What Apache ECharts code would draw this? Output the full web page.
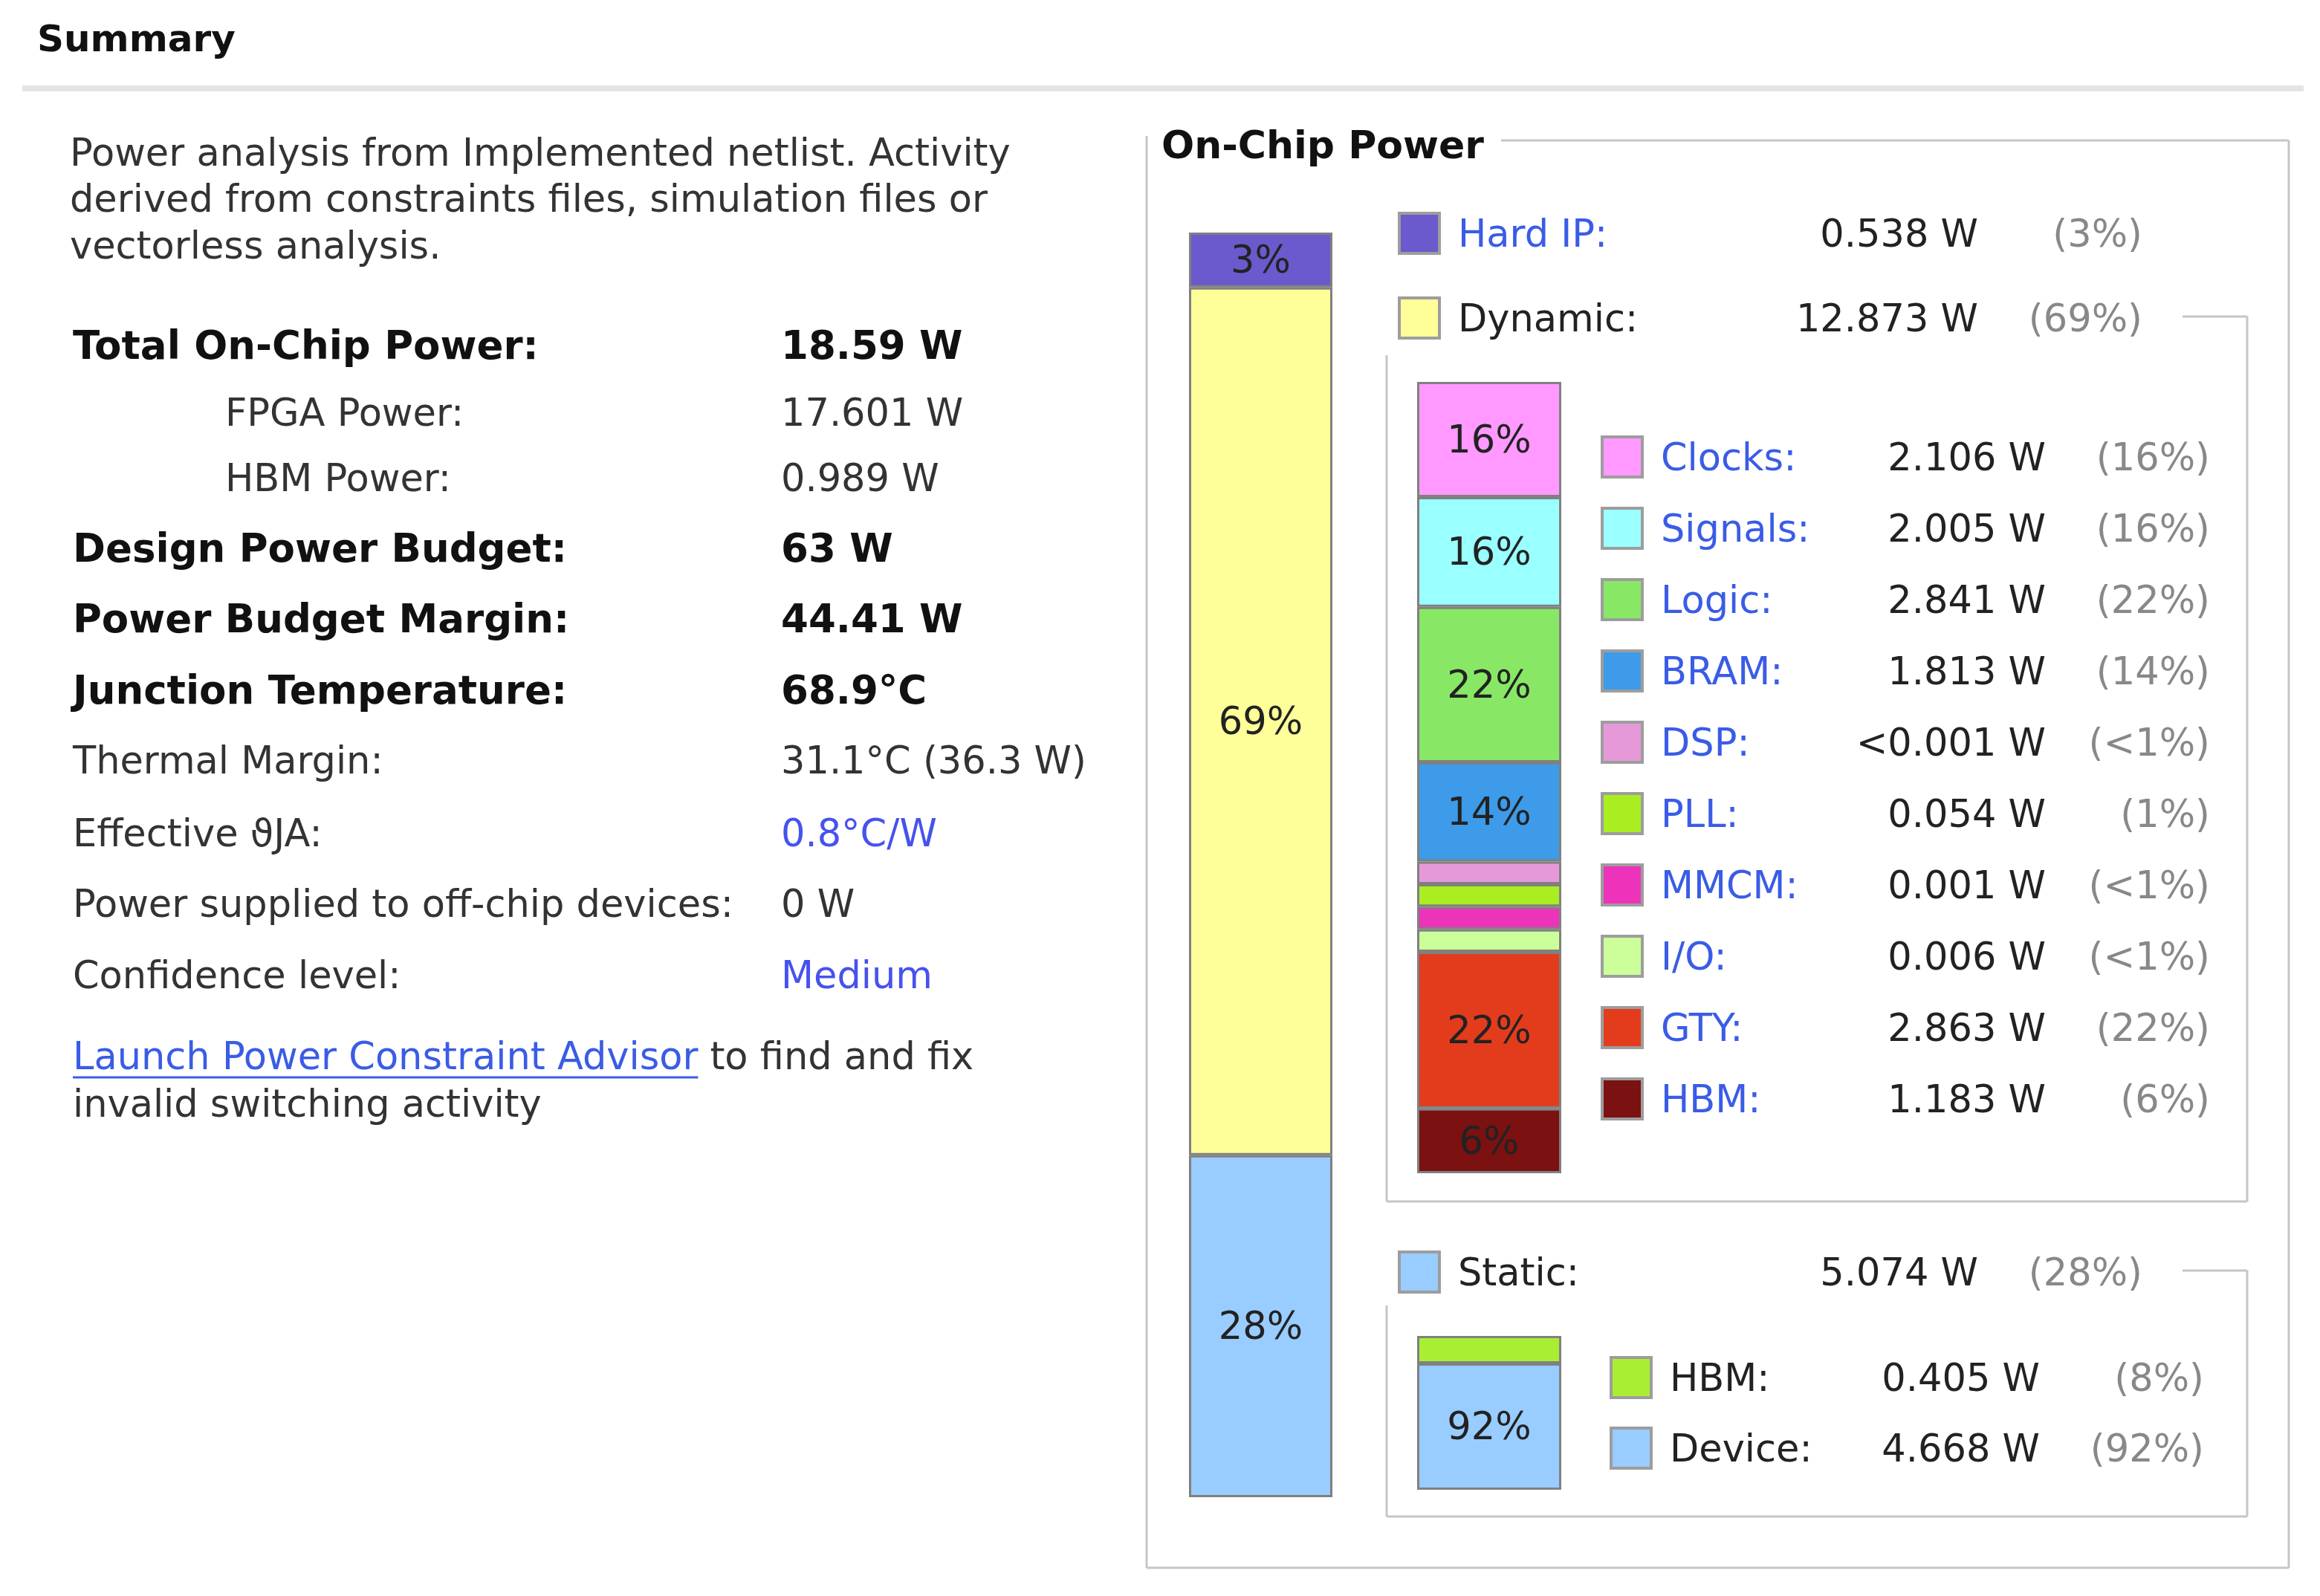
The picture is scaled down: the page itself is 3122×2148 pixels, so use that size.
<!DOCTYPE html>
<html>
<head>
<meta charset="utf-8">
<title>Summary - On-Chip Power</title>
<script src="https://cdn.jsdelivr.net/npm/echarts@6/dist/echarts.min.js"></script>
<style>
  html, body { margin: 0; padding: 0; background: #fff; }
  #main { width: 3122px; height: 2148px; }
</style>
</head>
<body>
<div id="main"></div>
<script>
// top level split of on-chip power
var topNames = ['Hard IP', 'Dynamic', 'Static'];
var topValues = [0.538, 12.873, 5.074];
var topPct = ['3%', '69%', '28%'];

// dynamic power breakdown
var dynNames = ['Clocks', 'Signals', 'Logic', 'BRAM', 'DSP', 'PLL', 'MMCM', 'I/O', 'GTY', 'HBM'];
var dynValues = [2.106, 2.005, 2.841, 1.813, 0.0005, 0.054, 0.001, 0.006, 2.863, 1.183];
var dynPct = ['16%', '16%', '22%', '14%', '<1%', '1%', '<1%', '<1%', '22%', '6%'];
var dynBarText = ['16%', '16%', '22%', '14%', '', '', '', '', '22%', '6%'];

// static power breakdown
var staticNames = ['HBM', 'Device'];
var staticValues = [0.405, 4.668];
var staticPct = ['8%', '92%'];
var staticBarText = ['', '92%'];

// summary table on the left
var summaryLabels = ['Total On-Chip Power:', 'FPGA Power:', 'HBM Power:', 'Design Power Budget:',
  'Power Budget Margin:', 'Junction Temperature:', 'Thermal Margin:', 'Effective \u03D1JA:',
  'Power supplied to off-chip devices:', 'Confidence level:'];
var summaryValues = ['18.59 W', '17.601 W', '0.989 W', '63 W', '44.41 W', '68.9\u00B0C',
  '31.1\u00B0C (36.3 W)', '0.8\u00B0C/W', '0 W', 'Medium'];

var topColors = ['#6a5acd', '#ffff99', '#99ccff'];
var dynColors = ['#ff99ff', '#99ffff', '#88e866', '#3d9be9', '#e699d8', '#aaee22', '#ee33bb', '#ccff99', '#e33c1c', '#7b1111'];
var staticColors = ['#aaee33', '#99ccff'];

var FONT = 'DejaVu Sans';
var BLUE = '#3a5ce6';
var FS = 51;

var chart = echarts.init(document.getElementById('main'), null, { renderer: 'svg' });

function fmtW(v) {
  return v < 0.001 ? '<0.001 W' : v.toFixed(3) + ' W';
}

// lookup for legend rows
var info = {};
function addInfo(prefix, names, values, pct, blue) {
  names.forEach(function (n, i) {
    info[prefix + n] = { label: n + ':', val: fmtW(values[i]), pct: '(' + pct[i] + ')', blue: blue[i] };
  });
}
addInfo('', topNames, topValues, topPct, [true, false, false]);
addInfo('', dynNames, dynValues, dynPct, dynNames.map(function () { return true; }));
addInfo('Static ', staticNames, staticValues, staticPct, [false, false]);

var series = [];
var yAxes = [];
var xAxes = [];

// one stacked column per grid; tiny parts get a minimum visible size like the tool does
function addBar(idx, prefix, names, values, colors, barText, floorFrac) {
  var total = values.reduce(function (a, b) { return a + b; }, 0);
  var floor = total * floorFrac;
  var shown = values.map(function (v) { return Math.max(v, floor); });
  var sum = shown.reduce(function (a, b) { return a + b; }, 0);
  xAxes.push({ type: 'category', gridIndex: idx, data: ['p'], show: false });
  yAxes.push({ type: 'value', gridIndex: idx, min: 0, max: sum, inverse: true, show: false });
  names.forEach(function (n, i) {
    series.push({
      type: 'bar',
      name: prefix + n,
      xAxisIndex: idx,
      yAxisIndex: idx,
      stack: 'g' + idx,
      barWidth: '100%',
      silent: true,
      data: [shown[i]],
      itemStyle: { color: colors[i], borderColor: '#808080', borderWidth: 3 },
      label: {
        show: barText[i] !== '',
        position: 'inside',
        formatter: barText[i],
        fontFamily: FONT,
        fontSize: FS,
        color: '#222'
      }
    });
  });
}

addBar(0, '', topNames, topValues, topColors, topPct, 0.044);
addBar(1, '', dynNames, dynValues, dynColors, dynBarText, 0.032);
addBar(2, 'Static ', staticNames, staticValues, staticColors, staticBarText, 0.2);

function legend(data, left, top, gap, nameW) {
  var base = { fontFamily: FONT, fontSize: FS, lineHeight: 54 };
  return {
    orient: 'vertical',
    left: left,
    top: top,
    padding: 0,
    itemGap: gap,
    itemWidth: 54,
    itemHeight: 54,
    icon: 'rect',
    selectedMode: false,
    data: data,
    itemStyle: { borderColor: '#9d9d9d', borderWidth: 4 },
    formatter: function (name) {
      var d = info[name];
      return '{sp| }{' + (d.blue ? 'nb' : 'nk') + '|' + d.label + '}{v|' + d.val + '}{p|' + d.pct + '}';
    },
    textStyle: {
      fontFamily: FONT,
      fontSize: FS,
      rich: {
        sp: Object.assign({ width: 20 }, base),
        nb: Object.assign({ width: nameW, color: BLUE }, base),
        nk: Object.assign({ width: nameW, color: '#222' }, base),
        v: Object.assign({ width: 266, align: 'right', color: '#222' }, base),
        p: Object.assign({ width: 221, align: 'right', color: '#888' }, base)
      }
    }
  };
}

var legends = [
  legend(['Hard IP', 'Dynamic'], 1881, 285, 56, 434),
  legend(['Static'], 1881, 1683, 56, 434),
  legend(dynNames, 2154, 586, 38, 252),
  legend(staticNames.map(function (n) { return 'Static ' + n; }), 2166, 1825, 37, 232)
];

// left hand text block
var graphics = [];
function txt(x, y, s, opts) {
  opts = opts || {};
  graphics.push({
    type: 'text', x: x, y: y, silent: true,
    style: {
      text: s,
      font: (opts.bold ? 'bold ' : '') + (opts.size || FS) + 'px "' + FONT + '"',
      fill: opts.color || '#333',
      verticalAlign: 'middle'
    }
  });
}
function line(x1, y1, x2, y2, color, w) {
  graphics.push({
    type: 'line', silent: true,
    shape: { x1: x1, y1: y1, x2: x2, y2: y2 },
    style: { stroke: color || '#c6c6c6', lineWidth: w || 3 }
  });
}

txt(50, 52, 'Summary', { bold: true, color: '#111', size: 50 });
line(30, 119, 3100, 119, '#e4e4e4', 8);

txt(94, 205, 'Power analysis from Implemented netlist. Activity');
txt(94, 267, 'derived from constraints files, simulation files or');
txt(94, 330, 'vectorless analysis.');

var rowY = [464, 555, 643, 737, 832, 928, 1023, 1121, 1216, 1312];
var boldRows = [0, 3, 4, 5];
var indentRows = [1, 2];
var blueValueRows = [7, 9];
summaryLabels.forEach(function (lab, i) {
  var bold = boldRows.indexOf(i) >= 0;
  var x = indentRows.indexOf(i) >= 0 ? 303 : 98;
  txt(x, rowY[i], lab, { bold: bold, size: bold ? 53 : FS, color: bold ? '#111' : '#333' });
  txt(1051, rowY[i], summaryValues[i], {
    bold: bold,
    size: bold ? 53 : FS,
    color: blueValueRows.indexOf(i) >= 0 ? '#4652ee' : (bold ? '#111' : '#333')
  });
});

var linkText = 'Launch Power Constraint Advisor';
var mctx = document.createElement('canvas').getContext('2d');
mctx.font = FS + 'px "' + FONT + '"';
var linkW = mctx.measureText(linkText).width;
txt(98, 1421, linkText, { color: BLUE });
line(98, 1450, 98 + linkW, 1450, BLUE, 3);
txt(98 + linkW + 16, 1421, 'to find and fix');
txt(98, 1485, 'invalid switching activity');

// On-Chip Power frame
txt(1563, 195, 'On-Chip Power', { bold: true, color: '#111', size: 52 });
line(2020, 189, 3080, 189);
line(1543, 183, 1543, 2110);
line(1543, 2110, 3080, 2110);
line(3080, 189, 3080, 2110);

// dynamic sub frame
line(2937, 426, 3024, 426);
line(3024, 426, 3024, 1617);
line(1866, 1617, 3024, 1617);
line(1866, 478, 1866, 1617);

// static sub frame
line(2937, 1710, 3024, 1710);
line(3024, 1710, 3024, 2041);
line(1866, 2041, 3024, 2041);
line(1866, 1757, 1866, 2041);

var option = {
  backgroundColor: '#fff',
  animation: false,
  tooltip: { show: false },
  grid: [
    { left: 1600, top: 313, width: 193, height: 1702 },
    { left: 1907, top: 514, width: 194, height: 1065 },
    { left: 1907, top: 1798, width: 194, height: 207 }
  ],
  xAxis: xAxes,
  yAxis: yAxes,
  legend: legends,
  series: series,
  graphic: graphics
};

chart.setOption(option);
</script>
</body>
</html>
